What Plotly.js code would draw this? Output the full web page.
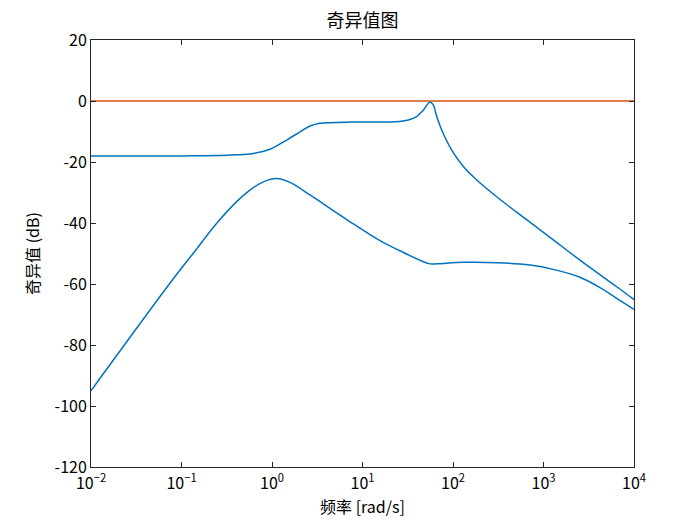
<!DOCTYPE html>
<html>
<head>
<meta charset="utf-8">
<script src="https://cdn.plot.ly/plotly-3.0.1.min.js"></script>
<style>html,body{margin:0;padding:0;background:#fff;}#chart{width:700px;height:525px;}</style>
</head>
<body>
<div id="chart"></div>
<script>
// Upper singular value (dB)
const freqUpper = [0.01, 0.1, 0.318, 0.621, 0.95, 1.45, 2.04, 2.63, 3.39, 7.85, 15.6, 22.9, 32.1, 39.7, 47.0, 55.7, 60.6, 66.1, 75.0, 96.8, 130, 183, 304, 598, 1180, 2754, 6442, 10000];
const svUpper  = [-18, -18, -17.8, -17.2, -15.8, -12.8, -10.1, -8.2, -7.3, -6.9, -6.9, -6.8, -6.2, -5.1, -3.0, -0.3, -1.3, -5.1, -9.5, -16.1, -21.5, -25.9, -31.4, -38.1, -44.7, -53.0, -60.9, -65.1];
// Lower singular value (dB)
const freqLower = [0.01, 0.0811, 0.135, 0.245, 0.407, 0.571, 0.802, 1.13, 1.58, 2.63, 4.38, 7.28, 15.6, 25.9, 47.0, 55.7, 66.1, 130, 304, 710, 1283, 2530, 4207, 6442, 10000];
const svLower  = [-95, -58.3, -49.9, -40.1, -33.0, -29.2, -26.5, -25.4, -26.7, -30.8, -35.2, -39.6, -45.8, -49.1, -52.7, -53.4, -53.4, -52.9, -53.0, -53.8, -55.2, -57.8, -61.2, -64.7, -68.3];
// Reference 0 dB line
const freqRef = [0.01, 10000];
const svRef = [0, 0];

const xTickVals = [0.01, 0.1, 1, 10, 100, 1000, 10000];
const xTickText = ['10<sup>−2</sup>', '10<sup>−1</sup>', '10<sup>0</sup>', '10<sup>1</sup>', '10<sup>2</sup>', '10<sup>3</sup>', '10<sup>4</sup>'];
const yTickVals = [20, 0, -20, -40, -60, -80, -100, -120];
const yTickText = ['20', '0', '-20', '-40', '-60', '-80', '-100', '-120'];

const FONT = '"Noto Sans CJK SC", "Noto Sans", sans-serif';
const blue = '#0072BD', orange = '#D95319', axisCol = '#262626';

const traces = [
  {x: freqUpper, y: svUpper, mode: 'lines', line: {color: blue, width: 1.5, shape: 'spline', smoothing: 1}, showlegend: false},
  {x: freqLower, y: svLower, mode: 'lines', line: {color: blue, width: 1.5, shape: 'spline', smoothing: 1}, showlegend: false},
  {x: freqRef, y: svRef, mode: 'lines', line: {color: orange, width: 1.5}, showlegend: false}
];

const layout = {
  width: 700, height: 525,
  margin: {l: 91, r: 66, t: 40, b: 58, pad: 0},
  paper_bgcolor: '#fff', plot_bgcolor: '#fff',
  font: {family: FONT, size: 16, color: '#000'},
  title: {text: '奇异值图', font: {family: FONT, size: 18, color: '#000'}, x: 0.5, xref: 'paper', xanchor: 'center', y: 1 - 21/525, yanchor: 'middle'},
  xaxis: {
    type: 'log', range: [-2, 4], tickvals: xTickVals, ticktext: xTickText,
    ticks: 'inside', ticklen: 5, tickcolor: axisCol, tickwidth: 1,
    showline: true, linecolor: axisCol, linewidth: 1, mirror: 'ticks',
    showgrid: false, zeroline: false, ticklabelstandoff: 2,
    tickfont: {family: FONT, size: 16, color: '#000'},
    title: {text: '频率 [rad/s]', font: {family: FONT, size: 16, color: '#000'}, standoff: 2}
  },
  yaxis: {
    range: [-120, 20], tickvals: yTickVals, ticktext: yTickText,
    ticks: 'inside', ticklen: 5, tickcolor: axisCol, tickwidth: 1,
    showline: true, linecolor: axisCol, linewidth: 1, mirror: 'ticks',
    showgrid: false, zeroline: false,
    tickfont: {family: FONT, size: 16, color: '#000'},
    title: {text: '奇异值 (dB)', font: {family: FONT, size: 16, color: '#000'}, standoff: 10}
  }
};

Plotly.newPlot('chart', traces, layout, {displayModeBar: false, staticPlot: true});
</script>
</body>
</html>
